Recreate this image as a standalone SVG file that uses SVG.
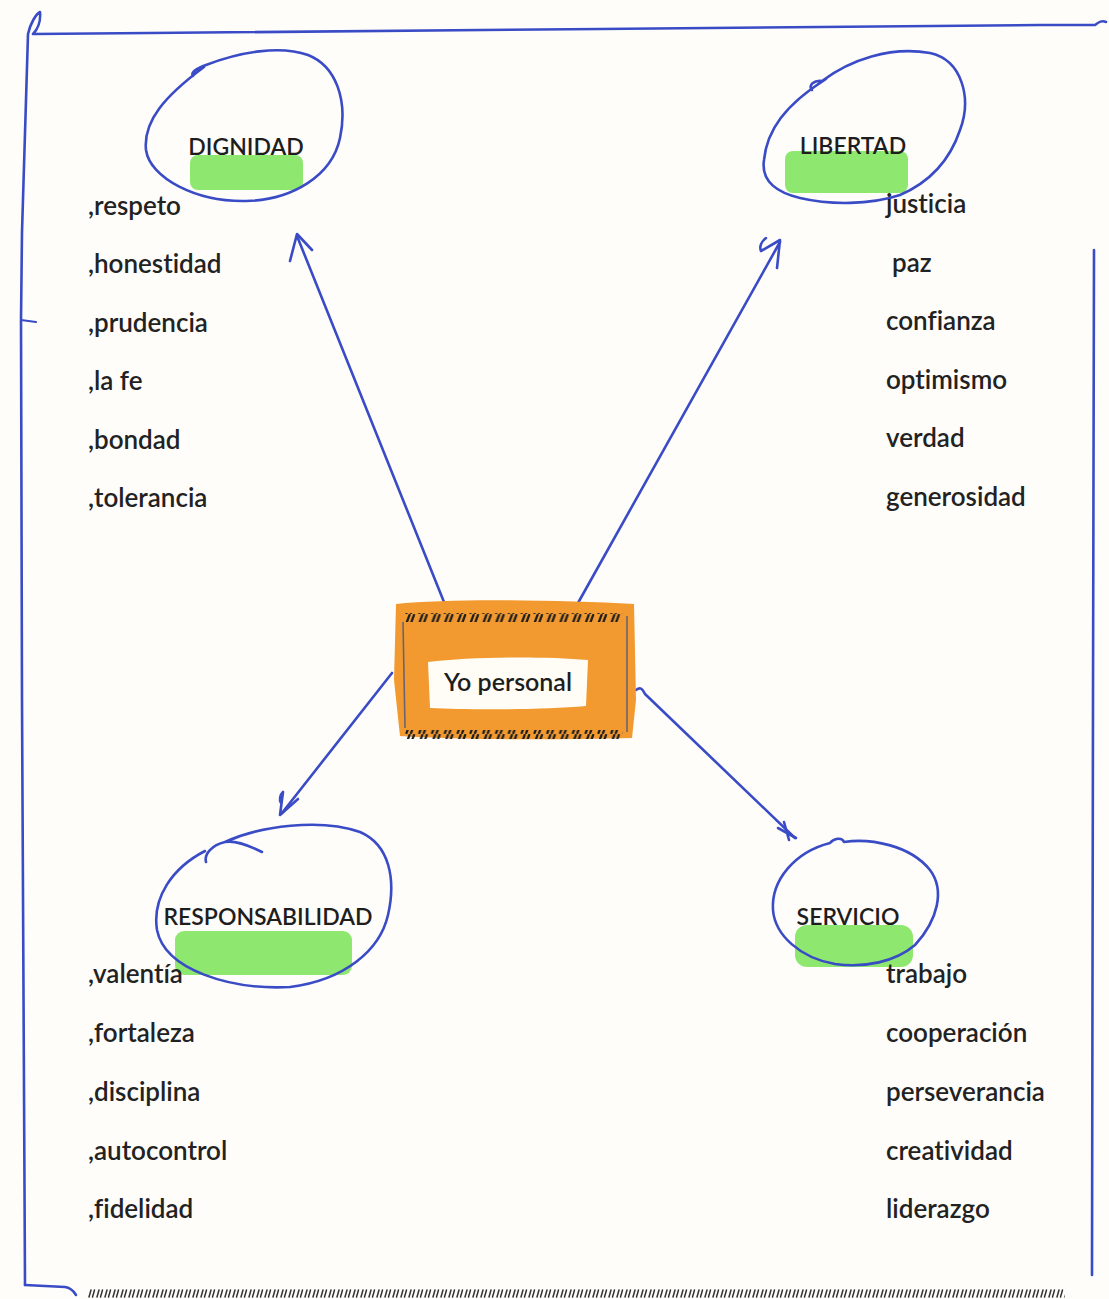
<svg xmlns="http://www.w3.org/2000/svg" width="1109" height="1299" viewBox="0 0 1109 1299">
<defs>
<style>
.ink{fill:none;stroke:#3a4bc6;stroke-width:2.6;stroke-linecap:round;stroke-linejoin:round}
.thin{fill:none;stroke:#3a4bc6;stroke-width:2;stroke-linecap:round}
.hl{fill:#84e663;opacity:0.92}
text{font-variant-ligatures:none}
.lbl{font-family:Lato,"Open Sans","Liberation Sans",sans-serif;font-weight:600;font-size:23px;fill:#1e1e1e}
.item{font-family:Lato,"Open Sans","Liberation Sans",sans-serif;font-weight:600;font-size:26px;fill:#222}
</style>
<pattern id="hatchA" x="405" y="614" width="12.8" height="10" patternUnits="userSpaceOnUse">
<path d="M1.5,9 L4.5,1 M6,9 L9,1" stroke="#1e1e1e" stroke-width="2.2" stroke-linecap="round"/>
</pattern>
<pattern id="hatchB" x="88" y="1289" width="8" height="9" patternUnits="userSpaceOnUse">
<path d="M1,8 L3,1 M4.5,8 L6.5,1" stroke="#333" stroke-width="1.5" stroke-linecap="round"/>
</pattern>
</defs>
<rect x="0" y="0" width="1109" height="1299" fill="#fefdfa"/>

<g id="frame">
<path class="ink" d="M25,1285 L22,700 L21,320 L22,232 L28,34 C30,24 36,14 40,12 C41,22 37,30 33,34 L150,33 L600,29 L1040,25 L1095,25 C1099,22 1102,20 1106,22"/>
<path class="thin" d="M21,320 L36,322"/>
<path class="ink" d="M25,1285 L65,1287 C72,1288 74,1292 76,1295"/>
<path class="ink" d="M1094,250 L1093,700 L1092,1275"/>
<rect x="88" y="1289" width="977" height="9" fill="url(#hatchB)"/>
</g>

<g id="connectors">
<path class="ink" d="M448,612 L297,236"/>
<path class="ink" d="M290,261 L297,234 L312,250"/>
<path class="ink" d="M578,603 L780,242"/>
<path class="ink" d="M761,251 L780,240 L777,268 M761,251 C759,246 762,241 766,238"/>
<path class="ink" d="M392,673 L282,813"/>
<path class="ink" d="M283,792 L280,815 L298,799 M283,792 C280,795 279,800 281,803"/>
<path class="ink" d="M636,690 C640,687 642,688 645,694 L795,838"/>
<path class="ink" d="M778,828 L796,838 M784,822 L789,840"/>
</g>

<g id="node-dignidad">
<rect class="hl" x="190" y="155" width="113" height="35" rx="8"/>
<path class="ink" d="M193,76 C190,72 198,68 206,65 C240,52 280,45 308,55 C336,66 348,100 340,138 C332,176 292,200 246,201 C196,202 150,178 146,150 C143,121 165,96 204,67"/>
<text class="lbl" x="246" y="155" text-anchor="middle">DIGNIDAD</text>
<text class="item" x="88" y="215">,respeto</text>
<text class="item" x="88" y="273">,honestidad</text>
<text class="item" x="88" y="332">,prudencia</text>
<text class="item" x="88" y="390">,la fe</text>
<text class="item" x="88" y="449">,bondad</text>
<text class="item" x="88" y="507">,tolerancia</text>
</g>

<g id="node-libertad">
<rect class="hl" x="785" y="151" width="123" height="42" rx="8"/>
<path class="ink" d="M812,90 C808,85 814,80 822,81 C850,60 890,46 930,53 C962,60 972,98 960,130 C950,160 930,182 900,195 C870,205 830,205 800,198 C775,192 761,180 764,160 C767,130 785,105 826,79"/>
<text class="lbl" x="853" y="154" text-anchor="middle">LIBERTAD</text>
<text class="item" x="886" y="213">justicia</text>
<text class="item" x="892" y="272">paz</text>
<text class="item" x="886" y="330">confianza</text>
<text class="item" x="886" y="389">optimismo</text>
<text class="item" x="886" y="447">verdad</text>
<text class="item" x="886" y="506">generosidad</text>
</g>

<g id="node-yo">
<path d="M396,604 C450,598 560,600 634,604 L636,700 L632,738 C560,740 460,740 400,736 L394,680 Z" fill="#f2992f"/>
<path d="M428,662 C470,657 540,656 588,660 L586,706 C540,710 470,710 430,708 Z" fill="#fffdf5"/>
<rect x="405" y="613" width="218" height="9" fill="url(#hatchA)"/>
<rect x="405" y="730" width="218" height="9" fill="url(#hatchA)"/>
<path d="M403,622 L405,728 M627,616 L627,732" stroke="#6b6470" stroke-width="1.6" fill="none"/>
<text class="lbl" x="508" y="691" text-anchor="middle" style="font-size:25px">Yo personal</text>
</g>

<g id="node-responsabilidad">
<rect class="hl" x="175" y="931" width="177" height="44" rx="9"/>
<path class="ink" d="M206,862 C204,854 212,845 225,842 C236,840 250,846 262,852 M225,842 C260,826 320,818 360,832 C390,845 396,880 388,915 C380,950 345,980 290,987 C230,990 165,970 157,930 C152,898 172,868 205,851"/>
<text class="lbl" x="268" y="925" text-anchor="middle">RESPONSABILIDAD</text>
<text class="item" x="88" y="983">,valentía</text>
<text class="item" x="88" y="1042">,fortaleza</text>
<text class="item" x="88" y="1101">,disciplina</text>
<text class="item" x="88" y="1160">,autocontrol</text>
<text class="item" x="88" y="1218">,fidelidad</text>
</g>

<g id="node-servicio">
<rect class="hl" x="795" y="925" width="118" height="42" rx="12"/>
<path class="ink" d="M830,843 C834,838 842,837 844,842 C870,838 910,845 930,870 C945,890 938,920 915,945 C895,962 865,968 835,964 C800,958 775,935 773,910 C771,880 795,852 830,843 Z"/>
<text class="lbl" x="848" y="925" text-anchor="middle">SERVICIO</text>
<text class="item" x="886" y="983">trabajo</text>
<text class="item" x="886" y="1042">cooperación</text>
<text class="item" x="886" y="1101">perseverancia</text>
<text class="item" x="886" y="1160">creatividad</text>
<text class="item" x="886" y="1218">liderazgo</text>
</g>
</svg>
